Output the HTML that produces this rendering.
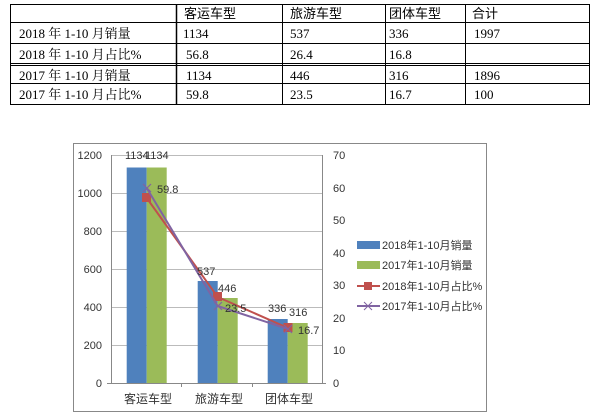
<!DOCTYPE html>
<html><head><meta charset="utf-8"><style>
body{margin:0;background:#fff;width:600px;height:416px;overflow:hidden;position:relative;font-family:"Liberation Serif","Noto Serif CJK SC","Noto Sans CJK SC",serif}
</style></head><body>
<svg width="600" height="416" style="position:absolute;left:0;top:0" font-family="Liberation Serif, Noto Serif CJK SC, Noto Sans CJK SC, serif">
<g stroke="#000" stroke-width="1" fill="none">
<rect x="10.5" y="4.5" width="579" height="100"/>
<line x1="10" y1="22.5" x2="590" y2="22.5"/>
<line x1="10" y1="43.5" x2="590" y2="43.5"/>
<line x1="10" y1="63.5" x2="590" y2="63.5"/>
<line x1="10" y1="65.5" x2="590" y2="65.5"/>
<line x1="10" y1="83.5" x2="590" y2="83.5"/>
<line x1="176.5" y1="4" x2="176.5" y2="105" stroke-width="1.5"/>
<line x1="282.5" y1="4" x2="282.5" y2="105"/>
<line x1="385.5" y1="4" x2="385.5" y2="105"/>
<line x1="465.5" y1="4" x2="465.5" y2="105"/>
</g>
<g font-size="13" fill="#000">
<text x="184" y="18" font-family="Liberation Sans, Noto Sans CJK SC, sans-serif">客运车型</text>
<text x="290" y="18" font-family="Liberation Sans, Noto Sans CJK SC, sans-serif">旅游车型</text>
<text x="389" y="18" font-family="Liberation Sans, Noto Sans CJK SC, sans-serif">团体车型</text>
<text x="472" y="18" font-family="Liberation Sans, Noto Sans CJK SC, sans-serif">合计</text>
<text x="19" y="38">2018 年 1-10 月销量</text>
<text x="19" y="59">2018 年 1-10 月占比%</text>
<text x="19" y="80">2017 年 1-10 月销量</text>
<text x="19" y="99">2017 年 1-10 月占比%</text>
<text x="183" y="38">1134</text><text x="290" y="38">537</text><text x="389" y="38">336</text><text x="474" y="38">1997</text>
<text x="186" y="59">56.8</text><text x="290" y="59">26.4</text><text x="389" y="59">16.8</text>
<text x="186" y="80">1134</text><text x="290" y="80">446</text><text x="389" y="80">316</text><text x="474" y="80">1896</text>
<text x="186" y="99">59.8</text><text x="290" y="99">23.5</text><text x="389" y="99">16.7</text><text x="474" y="99">100</text>
</g>
<rect x="73.5" y="143.5" width="413" height="268" fill="none" stroke="#888"/>
<g stroke="#bbb" stroke-width="1">
<line x1="111" y1="155.5" x2="322" y2="155.5"/><line x1="111" y1="193.5" x2="322" y2="193.5"/>
<line x1="111" y1="231.5" x2="322" y2="231.5"/><line x1="111" y1="269.5" x2="322" y2="269.5"/>
<line x1="111" y1="307.5" x2="322" y2="307.5"/><line x1="111" y1="345.5" x2="322" y2="345.5"/>
</g>
<g fill="#4f81bd"><rect x="126.7" y="167.5" width="20" height="215.5"/><rect x="197.7" y="281" width="20" height="102"/><rect x="267.7" y="319" width="20" height="64"/></g>
<g fill="#9bbb59"><rect x="146.7" y="167.5" width="20" height="215.5"/><rect x="217.7" y="298" width="20" height="85"/><rect x="287.7" y="323" width="20" height="60"/></g>
<g stroke="#888" stroke-width="1">
<line x1="111.5" y1="155" x2="111.5" y2="383"/><line x1="322.5" y1="155" x2="322.5" y2="383"/>
<line x1="107" y1="383.5" x2="326" y2="383.5"/>
<line x1="181.5" y1="383" x2="181.5" y2="387"/><line x1="252.5" y1="383" x2="252.5" y2="387"/>
</g>
<polyline points="146.7,198 217.7,297 288,328" fill="none" stroke="#c0504d" stroke-width="2"/>
<g fill="#c0504d"><rect x="142" y="193" width="9" height="9"/><rect x="213" y="292" width="9" height="9"/><rect x="283.5" y="323" width="9" height="9"/></g>
<polyline points="146.7,188 217.7,306 288,329" fill="none" stroke="#8064a2" stroke-width="2"/>
<g stroke="#8064a2" stroke-width="1.2"><path d="M143 184l8 8M151 184l-8 8M214 302l8 8M222 302l-8 8M284 325l8 8M292 325l-8 8"/></g>
<g font-size="11" fill="#333" font-family="Liberation Sans, Noto Sans CJK SC, sans-serif">
<g text-anchor="end"><text x="102" y="159">1200</text><text x="102" y="197">1000</text><text x="102" y="235">800</text><text x="102" y="273">600</text><text x="102" y="311">400</text><text x="102" y="349">200</text><text x="102" y="387">0</text></g>
<text x="333" y="159">70</text><text x="333" y="192">60</text><text x="333" y="224">50</text><text x="333" y="257">40</text><text x="333" y="289">30</text><text x="333" y="322">20</text><text x="333" y="354">10</text><text x="333" y="387">0</text>
<text x="125" y="159">1134</text><text x="145" y="159">1134</text><text x="157" y="193">59.8</text>
<text x="197" y="275">537</text><text x="218" y="292">446</text><text x="225" y="312">23.5</text>
<text x="268" y="312">336</text><text x="289" y="316">316</text><text x="298" y="334">16.7</text>
<text x="124" y="403" font-size="12">客运车型</text><text x="195" y="403" font-size="12">旅游车型</text><text x="265" y="403" font-size="12">团体车型</text>
<rect x="357" y="241" width="23" height="8" fill="#4f81bd"/><text x="382" y="249">2018年1-10月销量</text>
<rect x="357" y="261" width="23" height="8" fill="#9bbb59"/><text x="382" y="269">2017年1-10月销量</text>
<line x1="357" y1="286" x2="380" y2="286" stroke="#c0504d" stroke-width="2"/><rect x="364" y="282" width="8" height="8" fill="#c0504d"/><text x="382" y="290">2018年1-10月占比%</text>
<line x1="357" y1="306" x2="380" y2="306" stroke="#8064a2" stroke-width="2"/><path d="M364 302l8 8M372 302l-8 8" stroke="#8064a2"/><text x="382" y="310">2017年1-10月占比%</text>
</g>
</svg>
</body></html>
